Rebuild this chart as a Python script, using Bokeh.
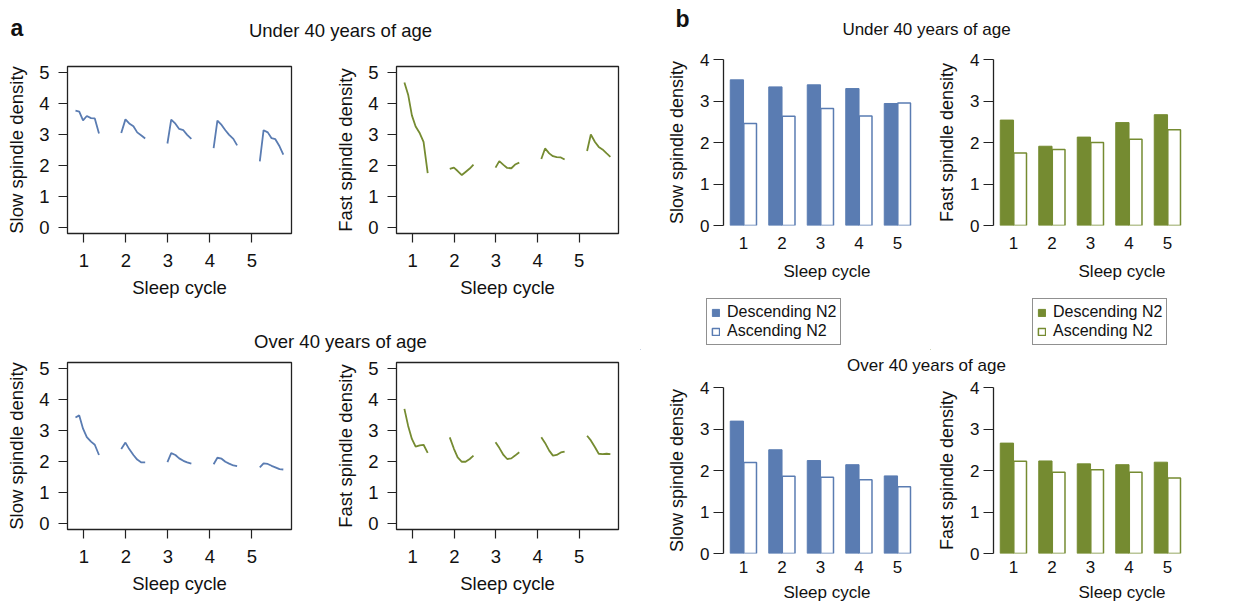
from bokeh.plotting import figure
from bokeh.models import Range1d, FixedTicker, Label, Legend, LegendItem, ColumnDataSource
from bokeh.layouts import row, column
from bokeh.transform import dodge
from bokeh.embed import file_html
from bokeh.resources import INLINE

FONT = "Liberation Sans"
BLUE = "#5a7cb2"
GREEN = "#758b31"
INK = "#111111"

# ---------------- data ----------------
cycles = [1, 2, 3, 4, 5]

# panel a: x positions of the N2 segments within each sleep cycle
cycle_x = [
    [0.80, 0.89, 0.98, 1.07, 1.17, 1.26, 1.36],
    [1.89, 1.99, 2.08, 2.18, 2.27, 2.37, 2.46],
    [2.99, 3.08, 3.18, 3.27, 3.37, 3.46, 3.56],
    [4.09, 4.18, 4.28, 4.37, 4.46, 4.56, 4.65],
    [5.19, 5.28, 5.38, 5.47, 5.56, 5.66, 5.75],
]
slow_u40 = [
    [3.77, 3.74, 3.46, 3.60, 3.53, 3.52, 3.03],
    [3.05, 3.49, 3.36, 3.27, 3.07, 2.97, 2.87],
    [2.71, 3.48, 3.35, 3.18, 3.14, 2.99, 2.86],
    [2.56, 3.45, 3.31, 3.14, 2.99, 2.86, 2.65],
    [2.13, 3.14, 3.07, 2.88, 2.85, 2.62, 2.35],
]
fast_u40 = [
    [4.68, 4.29, 3.62, 3.26, 3.04, 2.76, 1.75],
    [1.89, 1.93, 1.82, 1.69, 1.79, 1.90, 2.03],
    [1.93, 2.14, 2.02, 1.92, 1.91, 2.03, 2.09],
    [2.21, 2.55, 2.39, 2.30, 2.27, 2.26, 2.19],
    [2.47, 3.00, 2.76, 2.60, 2.52, 2.39, 2.28],
]
slow_o40 = [
    [3.42, 3.49, 3.06, 2.79, 2.64, 2.54, 2.21],
    [2.40, 2.61, 2.40, 2.21, 2.06, 1.97, 1.97],
    [1.98, 2.27, 2.21, 2.10, 2.02, 1.97, 1.93],
    [1.91, 2.12, 2.09, 1.99, 1.93, 1.87, 1.85],
    [1.81, 1.94, 1.92, 1.86, 1.81, 1.75, 1.74],
]
fast_o40 = [
    [3.70, 3.15, 2.73, 2.48, 2.52, 2.54, 2.28],
    [2.78, 2.41, 2.13, 1.99, 1.99, 2.08, 2.19],
    [2.62, 2.44, 2.21, 2.08, 2.10, 2.19, 2.30],
    [2.78, 2.60, 2.35, 2.19, 2.21, 2.29, 2.32],
    [2.83, 2.68, 2.46, 2.25, 2.24, 2.25, 2.24],
]

# panel b: bar heights
slow_desc_u40 = [3.51, 3.34, 3.39, 3.30, 2.94]
slow_asc_u40 = [2.46, 2.63, 2.82, 2.64, 2.95]
fast_desc_u40 = [2.54, 1.91, 2.13, 2.48, 2.67]
fast_asc_u40 = [1.75, 1.83, 2.00, 2.08, 2.31]
slow_desc_o40 = [3.19, 2.50, 2.24, 2.14, 1.87]
slow_asc_o40 = [2.19, 1.86, 1.84, 1.78, 1.61]
fast_desc_o40 = [2.66, 2.23, 2.16, 2.14, 2.20]
fast_asc_o40 = [2.22, 1.96, 2.02, 1.96, 1.82]

line_yticks = [0, 1, 2, 3, 4, 5]
bar_yticks = [0, 1, 2, 3, 4]
legend_labels = ["Descending N2", "Ascending N2"]


def base_fig(width, height, **kw):
    p = figure(width=width, height=height, output_backend="svg", toolbar_location=None, **kw)
    p.grid.visible = False
    p.background_fill_color = "white"
    p.border_fill_color = "white"
    return p


def style_axis(a, tick_fs, label_fs):
    a.major_label_text_font = FONT
    a.axis_label_text_font = FONT
    a.axis_label_text_font_style = "normal"
    a.major_label_text_color = INK
    a.axis_label_text_color = INK
    a.major_label_text_font_size = tick_fs
    a.axis_label_text_font_size = label_fs
    a.minor_tick_line_color = None


def line_fig(series, color, ylabel, width, height, left, right, top, bottom):
    p = base_fig(width, height, x_range=Range1d(0.61, 5.945), y_range=Range1d(-0.2, 5.2),
                 min_border_left=left, min_border_right=right,
                 min_border_top=top, min_border_bottom=bottom)
    p.outline_line_color = "#222222"
    p.outline_line_width = 1.3
    src = ColumnDataSource(dict(xs=cycle_x, ys=series))
    p.multi_line(xs="xs", ys="ys", source=src, line_color=color, line_width=1.8)
    ax, ay = p.xaxis[0], p.yaxis[0]
    ax.ticker = FixedTicker(ticks=cycles)
    ay.ticker = FixedTicker(ticks=line_yticks)
    for a in (ax, ay):
        style_axis(a, "18.5px", "18.5px")
        a.axis_line_color = None
        a.major_tick_in = 0
        a.major_tick_out = 9
        a.major_tick_line_color = "#222222"
        a.major_tick_line_width = 1.2
    ax.axis_label = "Sleep cycle"
    ay.axis_label = ylabel
    ax.major_label_standoff = 11
    ax.axis_label_standoff = 7
    ay.major_label_standoff = 9
    ay.axis_label_standoff = 9
    return p


PX_PER_GROUP = 38.5


def add_bars(p, desc, asc, color):
    src = ColumnDataSource(dict(cycle=cycles, desc=desc, asc=asc))
    r1 = p.vbar(x=dodge("cycle", -0.172, range=p.x_range), top="desc", bottom=0, width=0.345,
                source=src, fill_color=color, line_color=color, line_width=1)
    r2 = p.vbar(x=dodge("cycle", 0.172, range=p.x_range), top="asc", bottom=0, width=0.33,
                source=src, fill_color="white", line_color=color, line_width=1.5)
    return r1, r2


def bar_fig(desc, asc, color, ylabel, width, height, left, top, bottom, xstand, xlabstand):
    frame_w = width - left
    p = base_fig(width, height,
                 x_range=Range1d(0.48, 0.48 + frame_w / PX_PER_GROUP), y_range=Range1d(0, 4),
                 min_border_left=left, min_border_right=0,
                 min_border_top=top, min_border_bottom=bottom)
    p.outline_line_color = None
    add_bars(p, desc, asc, color)
    ax, ay = p.xaxis[0], p.yaxis[0]
    ax.ticker = FixedTicker(ticks=cycles)
    ay.ticker = FixedTicker(ticks=bar_yticks)
    style_axis(ax, "17px", "17px")
    style_axis(ay, "17px", "18px")
    ax.axis_line_color = None
    ax.major_tick_out = 0
    ax.major_tick_in = 0
    ax.major_label_standoff = xstand
    ax.axis_label_standoff = xlabstand
    ax.axis_label = "Sleep cycle"
    ay.axis_label = ylabel
    ay.bounds = (0, 4)
    ay.axis_line_color = "#222222"
    ay.axis_line_width = 1.3
    ay.major_tick_in = 0
    ay.major_tick_out = 10
    ay.major_tick_line_color = "#222222"
    ay.major_tick_line_width = 1.2
    ay.major_label_standoff = 4
    ay.axis_label_standoff = 10
    return p


def legend_fig(desc, asc, color, width, height, lx, ly):
    # the swatch renderers carry the series but sit outside this strip's visible range
    p = base_fig(width, height, x_range=Range1d(100, 101), y_range=Range1d(100, 101), min_border=0,
                 x_axis_location=None, y_axis_location=None)
    p.outline_line_color = None
    r1, r2 = add_bars(p, desc, asc, color)
    leg = Legend(items=[LegendItem(label=legend_labels[0], renderers=[r1]),
                        LegendItem(label=legend_labels[1], renderers=[r2])],
                 location=(lx, ly), orientation="vertical",
                 border_line_color="#222222", border_line_width=1.3,
                 padding=4, spacing=1, glyph_width=9, glyph_height=9,
                 label_standoff=7, label_height=17, margin=0,
                 label_text_font=FONT, label_text_font_size="16px",
                 label_text_color=INK, background_fill_color="white",
                 background_fill_alpha=1)
    p.add_layout(leg)
    return p


def header(width, height, labels):
    p = base_fig(width, height, x_range=Range1d(0, 1), y_range=Range1d(0, 1), min_border=0,
                 x_axis_location=None, y_axis_location=None)
    p.outline_line_color = None
    for lab in labels:
        p.add_layout(lab)
    return p


def lab(x, y, text, size, bold=False, align="center"):
    return Label(x=x, y=y, x_units="screen", y_units="screen", text=text,
                 text_font=FONT, text_font_size=size,
                 text_font_style="bold" if bold else "normal",
                 text_align=align, text_baseline="middle", text_color=INK)


# ---------------- panel a ----------------
hdrA1 = header(640, 50, [lab(10, 23, "a", "23px", bold=True, align="left"),
                         lab(340, 20, "Under 40 years of age", "18.5px")])
tl = line_fig(slow_u40, BLUE, "Slow spindle density", 300, 260, 67, 9, 16, 77)
tr = line_fig(fast_u40, GREEN, "Fast spindle density", 340, 260, 96, 22, 16, 77)
hdrA2 = header(640, 48, [lab(340, 17, "Over 40 years of age", "18.5px")])
bl = line_fig(slow_o40, BLUE, "Slow spindle density", 300, 242, 67, 9, 4, 71)
br = line_fig(fast_o40, GREEN, "Fast spindle density", 340, 242, 96, 22, 4, 71)
panelA = column(hdrA1, row(tl, tr), hdrA2, row(bl, br))

# ---------------- panel b ----------------
hdrB1 = header(610, 45, [lab(35, 27, "b", "23px", bold=True, align="left"),
                         lab(286, 16, "Under 40 years of age", "17px")])
btl = bar_fig(slow_desc_u40, slow_asc_u40, BLUE, "Slow spindle density", 290, 245, 83, 14, 65,
              xstand=11, xlabstand=10)
btr = bar_fig(fast_desc_u40, fast_asc_u40, GREEN, "Fast spindle density", 320, 245, 63, 14, 65,
              xstand=11, xlabstand=10)
legL = legend_fig(slow_desc_u40, slow_asc_u40, BLUE, 290, 60, 66, 5)
legR = legend_fig(fast_desc_u40, fast_asc_u40, GREEN, 320, 60, 102, 5)
hdrB2 = header(610, 30, [lab(286, 15, "Over 40 years of age", "17px")])
bbl = bar_fig(slow_desc_o40, slow_asc_o40, BLUE, "Slow spindle density", 290, 227, 83, 7, 54,
              xstand=7, xlabstand=7)
bbr = bar_fig(fast_desc_o40, fast_asc_o40, GREEN, "Fast spindle density", 320, 227, 63, 7, 54,
              xstand=7, xlabstand=7)
panelB = column(hdrB1, row(btl, btr), row(legL, legR), hdrB2, row(bbl, bbr))

layout = row(panelA, panelB)

open("out.html", "w").write(file_html(layout, INLINE))
